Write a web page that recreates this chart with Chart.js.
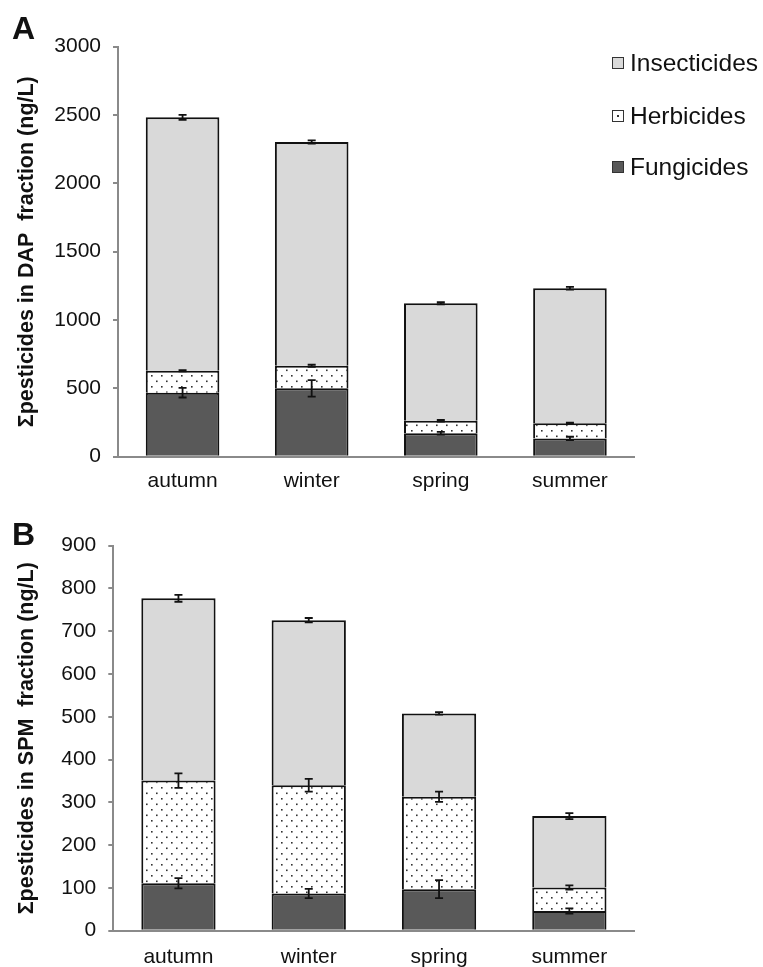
<!DOCTYPE html>
<html>
<head>
<meta charset="utf-8">
<script src="https://cdn.jsdelivr.net/npm/chart.js@4.4.0/dist/chart.umd.min.js"></script>
<style>
  body { margin: 0; background: #fff; width: 763px; height: 967px; position: relative; overflow: hidden;
         font-family: "Liberation Sans", Arial, sans-serif; color: #111; }
  .panel { position: absolute; left: 0; width: 763px; }
  #wrapA { top: 0; height: 500px; }
  #wrapB { top: 500px; height: 467px; }
  .tag { position: absolute; left: 12px; font-weight: bold; font-size: 32px; line-height: 32px; }
  .key { position: absolute; left: 612px; height: 26px; display: flex; align-items: center; font-size: 24.5px; }
  .sw { width: 10px; height: 10px; border: 1.6px solid #333; margin-right: 6px; position: relative; }
  .sw.dot::after { content: ""; position: absolute; left: 4px; top: 4px; width: 2px; height: 2px; background: #333; }
</style>
</head>
<body>
<div class="panel" id="wrapA"><canvas id="chartA" width="763" height="500"></canvas></div>
<div class="panel" id="wrapB"><canvas id="chartB" width="763" height="467"></canvas></div>
<div class="tag" style="top:12px">A</div>
<div class="tag" style="top:518px">B</div>
<div class="key" style="top:50px"><span class="sw" style="background:#d9d9d9"></span>Insecticides</div>
<div class="key" style="top:103px"><span class="sw dot" style="background:#fff"></span>Herbicides</div>
<div class="key" style="top:154px"><span class="sw" style="background:#595959"></span>Fungicides</div>
<script>
const seasons = ['autumn', 'winter', 'spring', 'summer'];

// dissolved + adsorbed phase (DAP), ng/L
const dapFungicides = [468, 500, 171, 134];
const dapHerbicides = [161, 166, 92, 110];
const dapInsecticides = [1854, 1637, 859, 988];
const dapFungicidesErr = [35, 60, 10, 12];
const dapHerbicidesErr = [5, 8, 6, 5];
const dapInsecticidesErr = [18, 12, 8, 10];
const dapTicks = [0, 500, 1000, 1500, 2000, 2500, 3000];

// suspended particulate matter (SPM), ng/L
const spmFungicides = [111, 87, 97, 46];
const spmHerbicides = [240, 253, 216, 55];
const spmInsecticides = [426, 386, 195, 167];
const spmFungicidesErr = [12, 11, 21, 6];
const spmHerbicidesErr = [17, 15, 12, 5];
const spmInsecticidesErr = [8, 5, 3, 7];
const spmTicks = [0, 100, 200, 300, 400, 500, 600, 700, 800, 900];

const FONT = '"Liberation Sans", Arial, sans-serif';
const AXIS = '#8a8a8a';

// white fill with a staggered grid of small dark dots
function dotPattern() {
  const c = document.createElement('canvas');
  c.width = 10; c.height = 11;
  const g = c.getContext('2d');
  g.fillStyle = '#fff';
  g.fillRect(0, 0, 10, 11);
  g.fillStyle = '#333';
  g.fillRect(1, 1, 1.6, 1.6);
  g.fillRect(6, 6.5, 1.6, 1.6);
  return g.createPattern(c, 'repeat');
}

// draws +/- error whiskers at the top of every stacked segment
const errorBars = {
  id: 'errorBars',
  afterDatasetsDraw(chart) {
    const { ctx } = chart;
    const y = chart.scales.y;
    ctx.save();
    ctx.strokeStyle = '#111';
    ctx.lineWidth = 1.8;
    chart.data.datasets.forEach((ds, i) => {
      const meta = chart.getDatasetMeta(i);
      meta.data.forEach((bar, j) => {
        let top = 0;
        for (let k = 0; k <= i; k++) top += chart.data.datasets[k].data[j];
        const e = ds.errors[j];
        const y1 = y.getPixelForValue(top + e);
        const y2 = y.getPixelForValue(top - e);
        ctx.beginPath();
        ctx.moveTo(bar.x, y1); ctx.lineTo(bar.x, y2);
        ctx.moveTo(bar.x - 4, y1); ctx.lineTo(bar.x + 4, y1);
        ctx.moveTo(bar.x - 4, y2); ctx.lineTo(bar.x + 4, y2);
        ctx.stroke();
      });
    });
    ctx.restore();
  }
};

function makeChart(id, sets, ticks, title, geo) {
  const pattern = dotPattern();
  const base = { borderColor: '#111', borderWidth: 2, barPercentage: 0.57, categoryPercentage: 1 };
  return new Chart(document.getElementById(id), {
    type: 'bar',
    data: {
      labels: seasons,
      datasets: [
        { ...base, label: 'Fungicides', data: sets[0], errors: sets[3], backgroundColor: '#595959' },
        { ...base, label: 'Herbicides', data: sets[1], errors: sets[4], backgroundColor: pattern },
        { ...base, label: 'Insecticides', data: sets[2], errors: sets[5], backgroundColor: '#d9d9d9' }
      ]
    },
    options: {
      responsive: false,
      animation: false,
      events: [],
      layout: { padding: { top: geo.top, right: 128.5, bottom: 0, left: 0 } },
      plugins: { legend: { display: false }, tooltip: { enabled: false } },
      scales: {
        x: {
          stacked: true,
          grid: { drawOnChartArea: false, drawTicks: false },
          border: { color: AXIS, width: 2 },
          ticks: { color: '#111', font: { family: FONT, size: 21 }, padding: geo.xPad },
          afterFit: s => { s.height = geo.xHeight; }
        },
        y: {
          stacked: true,
          min: ticks[0],
          max: ticks[ticks.length - 1],
          afterBuildTicks: s => { s.ticks = ticks.map(v => ({ value: v })); },
          grid: { drawOnChartArea: false, tickLength: 5, color: AXIS, lineWidth: 2 },
          border: { color: AXIS, width: 2 },
          ticks: { color: '#111', font: { family: FONT, size: 21 }, padding: 12, callback: v => String(v) },
          title: { display: true, text: title, color: '#111',
                   font: { family: FONT, size: 21.5, weight: 'bold' }, padding: { top: 14, bottom: 0 } },
          afterFit: s => { s.width = geo.left; }
        }
      }
    },
    plugins: [errorBars]
  });
}

makeChart('chartA',
  [dapFungicides, dapHerbicides, dapInsecticides, dapFungicidesErr, dapHerbicidesErr, dapInsecticidesErr],
  dapTicks, 'Σpesticides in DAP  fraction (ng/L)',
  { top: 46.7, left: 118, xHeight: 43.3, xPad: 12 });

makeChart('chartB',
  [spmFungicides, spmHerbicides, spmInsecticides, spmFungicidesErr, spmHerbicidesErr, spmInsecticidesErr],
  spmTicks, 'Σpesticides in SPM  fraction (ng/L)',
  { top: 45.7, left: 113.3, xHeight: 36.3, xPad: 13.5 });
</script>
</body>
</html>
